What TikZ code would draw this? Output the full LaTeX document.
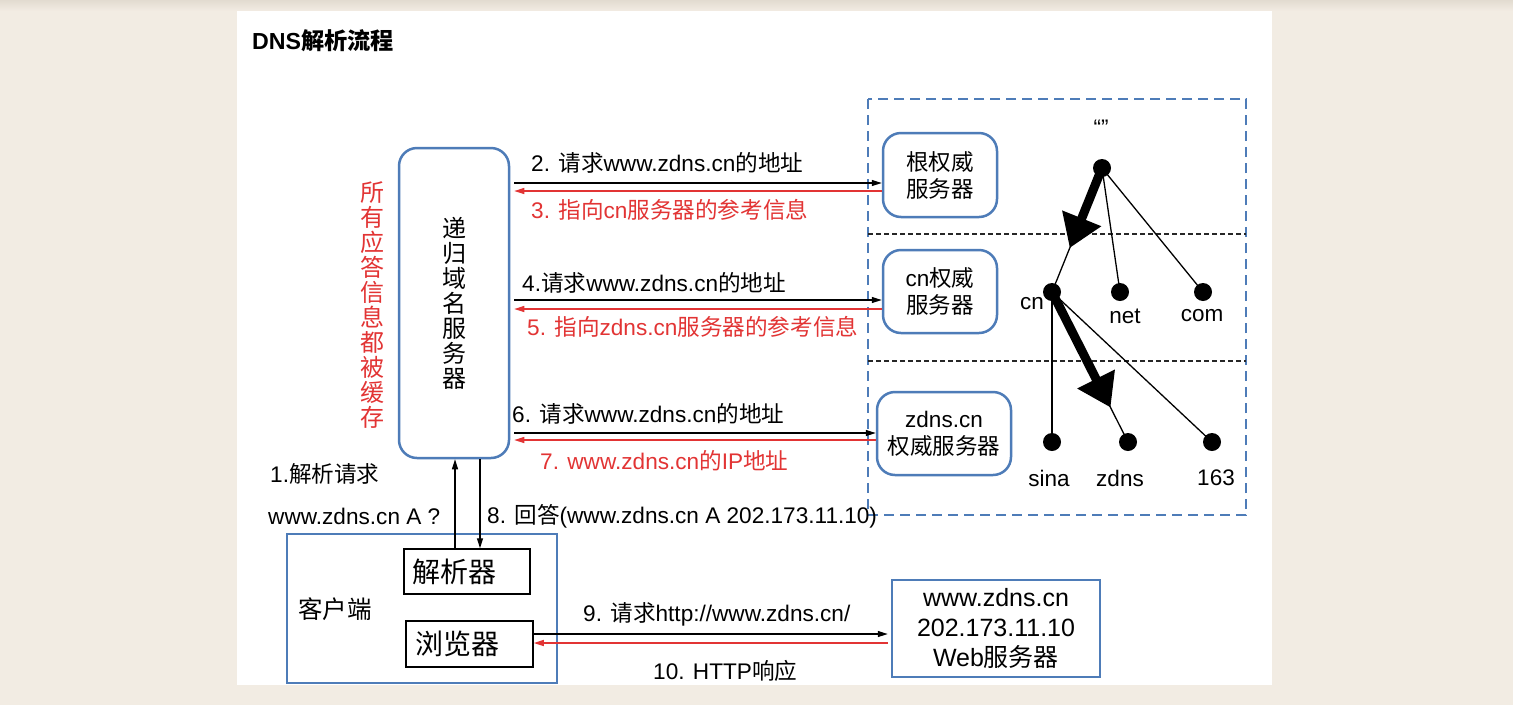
\documentclass[tikz,border=0pt]{standalone}
\usepackage{fontspec}
\setmainfont{Noto Sans CJK SC}
\newfontfamily\cjkf{Noto Sans CJK SC}
\newfontfamily\latf{Liberation Sans}
\newXeTeXintercharclass\cjkcls
\newcount\cjkcc \cjkcc="4E00
\loop \XeTeXcharclass\cjkcc=\cjkcls \advance\cjkcc 1 \ifnum\cjkcc<"A000 \repeat
\XeTeXinterchartokenstate=1
\XeTeXinterchartoks 0 \cjkcls = {\cjkf}
\XeTeXinterchartoks 4095 \cjkcls = {\cjkf}
\XeTeXinterchartoks \cjkcls 0 = {\latf}
\XeTeXinterchartoks 4095 0 = {\latf}
\usetikzlibrary{arrows.meta,calc}
\definecolor{bg}{RGB}{242,236,227}
\definecolor{bgd}{RGB}{226,219,208}
\definecolor{bbl}{RGB}{78,124,184}
\definecolor{rd}{RGB}{226,52,52}
\newcommand\fl{\fontsize{22.6}{27}\selectfont}
\newcommand\fs{\fontsize{22.5}{27}\selectfont}
\tikzset{
  rbox/.style={draw=bbl, line width=2.5pt, rounded corners=18pt, fill=white, align=center, inner sep=0pt, font=\fs},
  sbox/.style={draw=bbl, line width=2.5pt, align=center, inner sep=0pt},
  kbox/.style={draw=black, line width=1.5pt, inner sep=0pt, font=\fontsize{28}{32}\selectfont},
  lbl/.style={anchor=west, inner sep=0pt, font=\fl},
  rlbl/.style={lbl, text=rd},
  tlbl/.style={inner sep=0pt, font=\fs},
  karr/.style={line width=1.4pt, -{Triangle[length=10pt,width=6pt]}},
  rarr/.style={color=rd, line width=1.4pt, -{Triangle[length=10pt,width=6pt]}},
  dotn/.style={circle, fill=black, minimum size=18pt, inner sep=0pt},
  tline/.style={line width=1.3pt},
  fat/.style={line width=9pt, -{Triangle[length=32pt 0 0,width=40pt 0 0]}},
  blued/.style={draw=bbl, line width=2pt, dash pattern=on 10pt off 6pt},
  blackd/.style={draw=black!85, line width=1.3pt, dash pattern=on 5pt off 3pt},
}
\begin{document}
\begin{tikzpicture}[x=1pt,y=-1pt]
\useasboundingbox (0,0) rectangle (1513,705);
\fill[bg] (0,0) rectangle (1513,705);
\shade[top color=bgd, bottom color=bg] (0,0) rectangle (1513,11);
\fill[white] (237,11) rectangle (1272,685);

% title
\node[anchor=west, inner sep=0pt, font=\fontsize{23.2}{27}\selectfont\bfseries] (title) at (252,41) {DNS解析流程};

% dashed region
\draw[blued] (868,99) rectangle (1246,515);
\coordinate (dl1) at (868,234);
\coordinate (dr1) at (1246,234);
\coordinate (dl2) at (868,361);
\coordinate (dr2) at (1246,361);
\draw[blackd] (dl1) -- (dr1);
\draw[blackd] (dl2) -- (dr2);

% recursive server
\node[rbox, minimum width=110pt, minimum height=310pt, font=\fontsize{24}{25}\selectfont] (rec) at (454,303) {递\\归\\域\\名\\服\\务\\器};
\node[inner sep=0pt, align=center, text=rd, font=\fontsize{24}{25}\selectfont] (cache) at (372,305) {所\\有\\应\\答\\信\\息\\都\\被\\缓\\存};

% authoritative servers
\node[rbox, minimum width=114pt, minimum height=84pt] (root) at (940,175) {根权威\\服务器};
\node[rbox, minimum width=114pt, minimum height=83pt] (cnsrv) at (940,291.5) {cn权威\\服务器};
\node[rbox, minimum width=134pt, minimum height=83pt] (zdnsrv) at (944,433.5) {zdns.cn\\权威服务器};

% arrows 2-7
\coordinate (y2) at (0,183);
\coordinate (y3) at (0,191);
\coordinate (y4) at (0,300);
\coordinate (y5) at (0,309);
\coordinate (y6) at (0,433);
\coordinate (y7) at (0,440);
\draw[karr] ([xshift=4pt]rec.east |- y2) -- (root.west |- y2);
\draw[rarr] (root.west |- y3) -- ([xshift=4pt]rec.east |- y3);
\draw[karr] ([xshift=4pt]rec.east |- y4) -- (cnsrv.west |- y4);
\draw[rarr] (cnsrv.west |- y5) -- ([xshift=4pt]rec.east |- y5);
\draw[karr] ([xshift=4pt]rec.east |- y6) -- (zdnsrv.west |- y6);
\draw[rarr] (zdnsrv.west |- y7) -- ([xshift=4pt]rec.east |- y7);

\node[lbl] (l2) at (531,163) {2. 请求www.zdns.cn的地址};
\node[rlbl] (l3) at (531,210) {3. 指向cn服务器的参考信息};
\node[lbl] (l4) at (522,283) {4.请求www.zdns.cn的地址};
\node[rlbl] (l5) at (527,327) {5. 指向zdns.cn服务器的参考信息};
\node[lbl] (l6) at (512,414) {6. 请求www.zdns.cn的地址};
\node[rlbl] (l7) at (540,461) {7. www.zdns.cn的IP地址};

% client
\node[sbox, minimum width=270pt, minimum height=149pt] (client) at (422,608.5) {};
\node[inner sep=0pt, font=\fontsize{24.5}{28}\selectfont] (clientl) at (335,609) {客户端};
\node[kbox, minimum width=126pt, minimum height=45pt] (resolver) at (467,571.5) {};
\node[inner sep=0pt, font=\fontsize{28}{32}\selectfont, anchor=west] (resl) at (resolver.west) {\hspace{9pt}解析器};
\node[kbox, minimum width=127pt, minimum height=46pt] (browser) at (469.5,644) {};
\node[inner sep=0pt, font=\fontsize{28}{32}\selectfont, anchor=west] (brol) at (browser.west) {\hspace{10pt}浏览器};

\coordinate (xu) at (455,0);
\coordinate (xd) at (480,0);
\draw[karr] (resolver.north -| xu) -- (rec.south -| xu);
\draw[karr] (rec.south -| xd) -- (resolver.north -| xd);
\node[lbl] (l1a) at (270,474) {1.解析请求};
\node[lbl] (l1b) at (268,516) {www.zdns.cn A ?};
\node[lbl] (l8) at (487,516) {8. 回答(www.zdns.cn A 202.173.11.10)};

% web server
\node[sbox, minimum width=208pt, minimum height=97pt, font=\fontsize{25}{30}\selectfont] (web) at (996,628.5) {www.zdns.cn\\202.173.11.10\\Web服务器};
\coordinate (y9) at (0,634);
\coordinate (y10) at (0,643);
\draw[karr] (browser.east |- y9) -- ([xshift=-3pt]web.west |- y9);
\draw[rarr] ([xshift=-3pt]web.west |- y10) -- (browser.east |- y10);
\node[lbl] (l9) at (583,614) {9. 请求http://www.zdns.cn/};
\node[lbl] (l10) at (653,671) {10. HTTP响应};

% tree
\node[dotn] (nroot) at (1102,168) {};
\node[dotn] (ncn) at (1052,292) {};
\node[dotn] (nnet) at (1120,292) {};
\node[dotn] (ncom) at (1203,292) {};
\node[dotn] (nsina) at (1052,442) {};
\node[dotn] (nzdns) at (1128,442) {};
\node[dotn] (n163) at (1212,442) {};
\draw[tline] (nroot.center) -- (ncn.center);
\draw[tline] (nroot.center) -- (nnet.center);
\draw[tline] (nroot.center) -- (ncom.center);
\draw[tline] (ncn.center) -- (nsina.center);
\draw[tline] (ncn.center) -- (nzdns.center);
\draw[tline] (ncn.center) -- (n163.center);
\draw[fat] (nroot.center) -- ($(nroot)!0.645!(ncn)$);
\draw[fat] (ncn.center) -- ($(ncn)!0.77!(nzdns)$);
\node[tlbl] (tq) at (1101,128) {“”};
\node[tlbl] (tcn) at (1032,304) {cn};
\node[tlbl] (tnet) at (1125,316) {net};
\node[tlbl] (tcom) at (1202,316) {com};
\node[tlbl] (tsina) at (1049,478) {sina};
\node[tlbl] (tzdns) at (1120,478) {zdns};
\node[tlbl] (t163) at (1216,478) {163};
\end{tikzpicture}
\end{document}
